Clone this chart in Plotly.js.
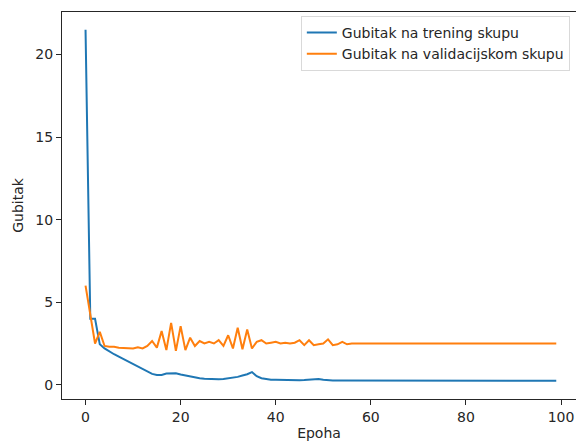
<!DOCTYPE html>
<html>
<head>
<meta charset="utf-8">
<script src="https://cdn.plot.ly/plotly-3.0.1.min.js"></script>
<style>html,body{margin:0;padding:0;background:#fff;}#chart{width:576px;height:441px;}</style>
</head>
<body>
<div id="chart"></div>
<script>
const epochs = Array.from({length: 100}, (_, i) => i);
const trainLoss = [
  21.5, 4.0, 4.0, 2.45, 2.2, 2.0, 1.85, 1.7, 1.55, 1.4,
  1.25, 1.1, 0.95, 0.8, 0.66, 0.6, 0.6, 0.68, 0.68, 0.7,
  0.62, 0.56, 0.5, 0.44, 0.4, 0.37, 0.35, 0.34, 0.34, 0.35,
  0.38, 0.42, 0.48, 0.56, 0.64, 0.77, 0.52, 0.4, 0.34, 0.31,
  0.3, 0.29, 0.29, 0.28, 0.28, 0.28, 0.29, 0.3, 0.33, 0.35,
  0.3, 0.27, 0.26, 0.26, 0.26, 0.26, 0.25, 0.25, 0.25, 0.25,
  0.25, 0.25, 0.25, 0.25, 0.25, 0.25, 0.25, 0.25, 0.25, 0.25,
  0.25, 0.25, 0.25, 0.25, 0.25, 0.25, 0.25, 0.25, 0.25, 0.25,
  0.24, 0.24, 0.24, 0.24, 0.24, 0.24, 0.24, 0.24, 0.24, 0.24,
  0.24, 0.24, 0.24, 0.24, 0.24, 0.24, 0.24, 0.24, 0.24, 0.24
];
const valLoss = [
  6.0, 4.2, 2.5, 3.2, 2.35, 2.3, 2.3, 2.25, 2.22, 2.22,
  2.2, 2.27, 2.2, 2.35, 2.65, 2.25, 3.25, 2.1, 3.75, 2.05,
  3.55, 2.1, 2.85, 2.35, 2.65, 2.5, 2.6, 2.5, 2.7, 2.35,
  3.0, 2.2, 3.45, 2.15, 3.35, 2.2, 2.6, 2.7, 2.5, 2.55,
  2.6, 2.5, 2.55, 2.5, 2.55, 2.7, 2.4, 2.7, 2.4, 2.45,
  2.5, 2.75, 2.4, 2.45, 2.6, 2.45, 2.5, 2.5, 2.5, 2.5,
  2.5, 2.5, 2.5, 2.5, 2.5, 2.5, 2.5, 2.5, 2.5, 2.5,
  2.5, 2.5, 2.5, 2.5, 2.5, 2.5, 2.5, 2.5, 2.5, 2.5,
  2.5, 2.5, 2.5, 2.5, 2.5, 2.5, 2.5, 2.5, 2.5, 2.5,
  2.5, 2.5, 2.5, 2.5, 2.5, 2.5, 2.5, 2.5, 2.5, 2.5
];
const seriesNames = ["Gubitak na trening skupu", "Gubitak na validacijskom skupu"];
const xTicks = [0, 20, 40, 60, 80, 100];
const yTicks = [0, 5, 10, 15, 20];

const font = {family: "DejaVu Sans, sans-serif", size: 14, color: "#262626"};
const traces = [
  {x: epochs, y: trainLoss, name: seriesNames[0], type: "scatter", mode: "lines",
   line: {color: "#1f77b4", width: 2}},
  {x: epochs, y: valLoss, name: seriesNames[1], type: "scatter", mode: "lines",
   line: {color: "#ff7f0e", width: 2}}
];
const layout = {
  width: 576, height: 441,
  margin: {l: 62, r: 0, t: 12, b: 42},
  paper_bgcolor: "#fff", plot_bgcolor: "#fff",
  font: font,
  showlegend: true,
  legend: {x: 0.988, y: 0.99, xanchor: "right", yanchor: "top",
    bgcolor: "rgba(255,255,255,0.8)", bordercolor: "#d9d9d9", borderwidth: 1,
    font: {family: "DejaVu Sans, sans-serif", size: 14, color: "#262626"}},
  xaxis: {range: [-4.95, 103.15], tickvals: xTicks, ticks: "outside", ticklen: 5,
    tickcolor: "#262626", showgrid: false, zeroline: false, showline: true,
    linecolor: "#262626", linewidth: 1, mirror: true,
    title: {text: "Epoha", font: font, standoff: 6}},
  yaxis: {range: [-0.86, 22.57], tickvals: yTicks, ticks: "outside", ticklen: 5,
    tickcolor: "#262626", showgrid: false, zeroline: false, showline: true,
    linecolor: "#262626", linewidth: 1, mirror: false,
    title: {text: "Gubitak", font: font, standoff: 8}}
};
Plotly.newPlot("chart", traces, layout, {displayModeBar: false, staticPlot: true});
</script>
</body>
</html>
